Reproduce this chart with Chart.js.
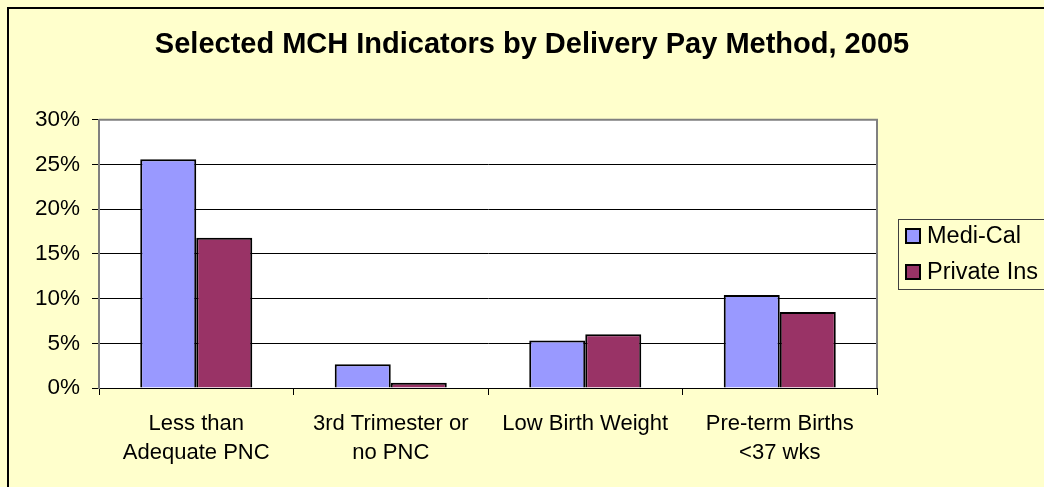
<!DOCTYPE html>
<html>
<head>
<meta charset="utf-8">
<script src="https://cdn.jsdelivr.net/npm/chart.js@4.4.1/dist/chart.umd.min.js"></script>
<style>
html,body{margin:0;padding:0;background:#FFFFCC;}
#wrap{width:1044px;height:487px;position:relative;}
</style>
</head>
<body>
<div id="wrap"><canvas id="c" width="1044" height="487"></canvas></div>
<script>
const titleText = 'Selected MCH Indicators by Delivery Pay Method, 2005';
const categories = [['Less than','Adequate PNC'],['3rd Trimester or','no PNC'],['Low Birth Weight'],['Pre-term Births','<37 wks']];
const seriesNames = ['Medi-Cal','Private Ins'];
const mediCal = [25.6, 2.65, 5.3, 10.4];
const privateIns = [16.8, 0.6, 6.0, 8.5];
const yTicks = [0,5,10,15,20,25,30];

const FONT = "'Liberation Sans', Arial, sans-serif";

const decor = {
  id:'decor',
  beforeDraw(chart){
    const ctx = chart.ctx, a = chart.chartArea;
    ctx.save();
    ctx.fillStyle = '#FFFFCC';
    ctx.fillRect(0,0,chart.width,chart.height);
    ctx.strokeStyle = '#000';
    ctx.lineWidth = 2;
    ctx.beginPath();
    ctx.moveTo(8, chart.height+5);
    ctx.lineTo(8, 8);
    ctx.lineTo(chart.width+5, 8);
    ctx.stroke();
    ctx.fillStyle = '#FFFFFF';
    ctx.fillRect(a.left, a.top, a.right-a.left, a.bottom-a.top);
    ctx.restore();
  },
  afterDraw(chart){
    const ctx = chart.ctx, a = chart.chartArea;
    ctx.save();
    ctx.strokeStyle = '#808080';
    ctx.lineWidth = 2;
    ctx.beginPath();
    ctx.moveTo(a.left, a.top);
    ctx.lineTo(a.right, a.top);
    ctx.lineTo(a.right, a.bottom);
    ctx.stroke();
    const lx = 898, ly = 219, lw = 160, lh = 70;
    ctx.strokeStyle = '#404040';
    ctx.lineWidth = 1;
    ctx.strokeRect(lx+0.5, ly+0.5, lw, lh);
    ctx.font = "23.5px " + FONT;
    ctx.textBaseline = 'middle';
    ctx.textAlign = 'left';
    chart.data.datasets.forEach((ds,i)=>{
      const cy = 236 + i*36;
      ctx.fillStyle = ds.backgroundColor;
      ctx.fillRect(906, cy-7, 14, 14);
      ctx.strokeStyle = '#000';
      ctx.lineWidth = 2;
      ctx.strokeRect(906, cy-7, 14, 14);
      ctx.fillStyle = '#000';
      ctx.fillText(ds.label, 927, cy+1);
    });
    ctx.restore();
  }
};

new Chart(document.getElementById('c'), {
  type:'bar',
  data:{
    labels: categories,
    datasets:[
      {label: seriesNames[0], data: mediCal, backgroundColor:'#9999FF', borderColor:'#000', borderWidth:2, yAxisID:'y'},
      {label: seriesNames[1], data: privateIns, backgroundColor:'#993366', borderColor:'#000', borderWidth:2, yAxisID:'y'}
    ]
  },
  options:{
    responsive:false,
    animation:false,
    devicePixelRatio:1,
    layout:{padding:{left:20, right:0, top:0, bottom:0}},
    datasets:{bar:{categoryPercentage:0.576, barPercentage:1.0}},
    plugins:{
      legend:{display:false},
      tooltip:{enabled:false},
      title:{display:true, text:titleText, color:'#000',
        font:{family:FONT, size:29, weight:'bold', lineHeight:1.2},
        padding:{top:28, bottom:57}}
    },
    scales:{
      x:{
        grid:{offset:true, drawOnChartArea:false, drawTicks:true, tickLength:7, color:'#000', lineWidth:1},
        border:{color:'#000', width:1},
        ticks:{color:'#000', padding:14, maxRotation:0, autoSkip:false,
          font:{family:FONT, size:22, lineHeight:1.32}},
        afterFit(s){ s.height = 99; }
      },
      y:{
        position:'left',
        min:0, max:30,
        afterBuildTicks(s){ s.ticks = yTicks.map(v=>({value:v})); },
        grid:{color:'#000', lineWidth:1, tickLength:7, drawTicks:true},
        border:{color:'#808080', width:2},
        ticks:{color:'#000', padding:12, callback:v=>v+'%',
          font:{family:FONT, size:22.5}},
        afterFit(s){ s.width = 79; }
      },
      y2:{
        position:'right',
        display:true,
        min:0, max:30,
        grid:{display:false, drawTicks:false},
        border:{display:false},
        ticks:{display:false},
        afterFit(s){ s.width = 167; }
      }
    }
  },
  plugins:[decor]
});
</script>
</body>
</html>
